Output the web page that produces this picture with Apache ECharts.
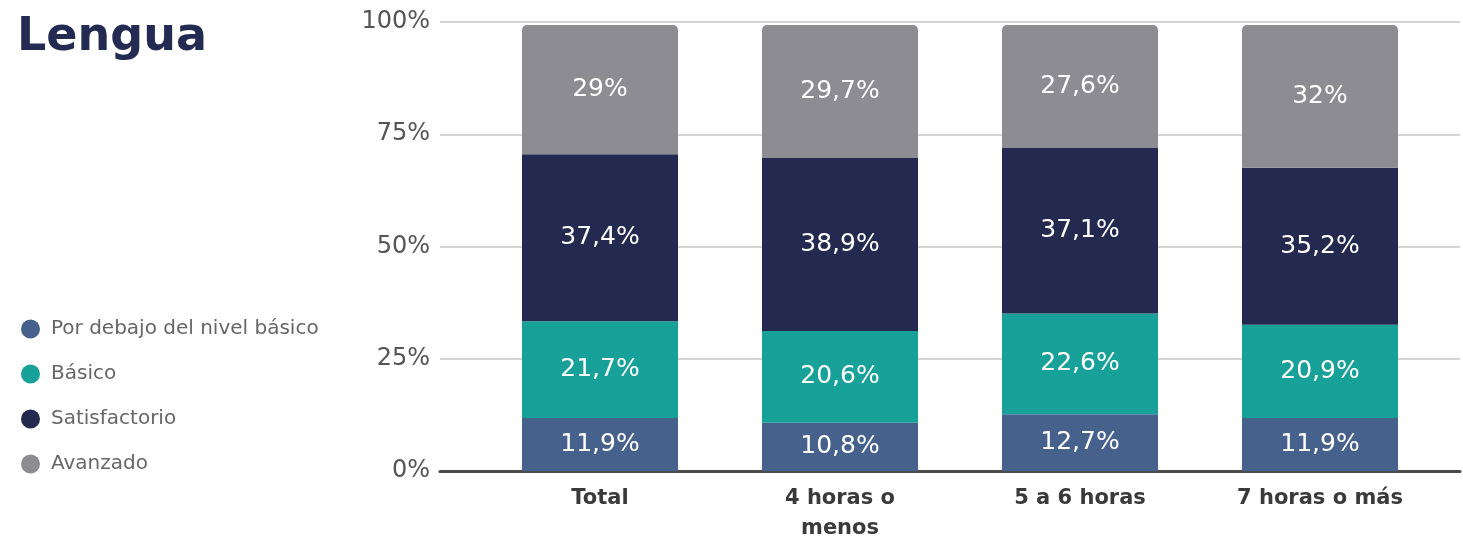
<!DOCTYPE html>
<html>
<head>
<meta charset="utf-8">
<script src="https://cdn.jsdelivr.net/npm/echarts@6/dist/echarts.min.js"></script>
<style>
  html, body { margin: 0; padding: 0; background: #fff; }
  #chart { width: 1463px; height: 541px; }
</style>
</head>
<body>
<div id="chart"></div>
<script>
// ===== Data =====
const categories    = ['Total', '4 horas o\nmenos', '5 a 6 horas', '7 horas o más'];
const porDebajo     = [11.9, 10.8, 12.7, 11.9];
const basico        = [21.7, 20.6, 22.6, 20.9];
const satisfactorio = [37.4, 38.9, 37.1, 35.2];
const avanzado      = [29, 29.7, 27.6, 32];
const yTicks        = [0, 25, 50, 75, 100];

const FONT = '"DejaVu Sans", sans-serif';
const fmt = v => String(v).replace('.', ',') + '%';

function barSeries(name, data, color, top) {
  return {
    name, type: 'bar', stack: 'total', data,
    xAxisIndex: 1, yAxisIndex: 1,
    barWidth: 156,
    itemStyle: { color, borderRadius: top ? [5, 5, 0, 0] : 0 },
    label: {
      show: true, position: 'inside', formatter: p => fmt(p.value),
      color: '#fff', fontFamily: FONT, fontSize: 25
    }
  };
}

const chart = echarts.init(document.getElementById('chart'), null, { renderer: 'canvas' });

chart.setOption({
  animation: false,
  title: {
    text: 'Lengua', left: 12, top: 10,
    textStyle: { fontFamily: FONT, fontSize: 46, fontWeight: 'bold', color: '#232b52' }
  },
  legend: {
    orient: 'vertical', left: 16, top: 314,
    icon: 'circle', itemWidth: 19, itemHeight: 19, itemGap: 25,
    textStyle: { fontFamily: FONT, fontSize: 20, color: '#666', padding: [0, 0, 0, 6] },
    data: ['Por debajo del nivel básico', 'Básico', 'Satisfactorio', 'Avanzado']
  },
  grid: [
    { left: 440, right: 3, top: 22, bottom: 70, outerBoundsMode: 'none' },
    { left: 480, right: 23, top: 25, bottom: 70, outerBoundsMode: 'none' }
  ],
  xAxis: [
    {
      gridIndex: 0, type: 'value', min: 0, max: 1,
      axisLine: { show: true, lineStyle: { color: '#4a4a4a', width: 3 } },
      axisTick: { show: false }, axisLabel: { show: false }, splitLine: { show: false }
    },
    {
      gridIndex: 1, type: 'category', data: categories,
      axisLine: { show: false }, axisTick: { show: false },
      axisLabel: {
        margin: 13, fontFamily: FONT, fontSize: 21, fontWeight: 'bold',
        color: '#3a3a3a', lineHeight: 30
      }
    }
  ],
  yAxis: [
    {
      gridIndex: 0, type: 'value', min: 0, max: 100, interval: 25,
      axisLine: { show: false }, axisTick: { show: false },
      axisLabel: {
        margin: 10, fontFamily: FONT, fontSize: 24, color: '#555',
        formatter: v => yTicks.includes(v) ? v + '%' : ''
      },
      splitLine: { lineStyle: { color: '#d4d4d4', width: 2 } }
    },
    {
      gridIndex: 1, type: 'value', min: 0, max: 100, show: false
    }
  ],
  series: [
    barSeries('Por debajo del nivel básico', porDebajo, '#46628c', false),
    barSeries('Básico', basico, '#18a199', false),
    barSeries('Satisfactorio', satisfactorio, '#242a4f', false),
    barSeries('Avanzado', avanzado, '#8d8c92', true)
  ]
});
</script>
</body>
</html>
